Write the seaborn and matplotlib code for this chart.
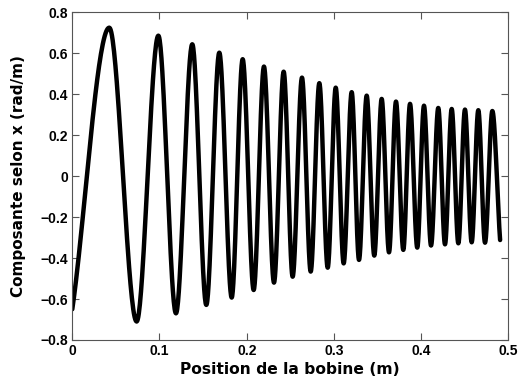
import numpy as np
import pandas as pd
import matplotlib
matplotlib.use("Agg")
import matplotlib.pyplot as plt
import seaborn as sns

# Start point, alternating peaks/troughs, and end point of the measured signal
position_m = [0.0000, 0.0424, 0.0738, 0.0987, 0.1189, 0.1376, 0.1537, 0.1686,
              0.1828, 0.1954, 0.2080, 0.2198, 0.2313, 0.2424, 0.2527, 0.2634,
              0.2734, 0.2833, 0.2929, 0.3021, 0.3112, 0.3204, 0.3288, 0.3376,
              0.3463, 0.3548, 0.3632, 0.3712, 0.3796, 0.3873, 0.3956, 0.4033,
              0.4114, 0.4197, 0.4274, 0.4351, 0.4427, 0.4503, 0.4580, 0.4656,
              0.4733, 0.4817, 0.4906]
component_x = [-0.650, 0.725, -0.710, 0.686, -0.670, 0.644, -0.629, 0.603,
               -0.593, 0.571, -0.556, 0.535, -0.520, 0.510, -0.491, 0.481,
               -0.466, 0.454, -0.447, 0.432, -0.426, 0.410, -0.409, 0.393,
               -0.388, 0.377, -0.372, 0.364, -0.360, 0.353, -0.349, 0.344,
               -0.339, 0.333, -0.333, 0.328, -0.328, 0.325, -0.323, 0.322,
               -0.325, 0.318, -0.312]

x_ticks = [0, 0.1, 0.2, 0.3, 0.4, 0.5]
y_ticks = [-0.8, -0.6, -0.4, -0.2, 0, 0.2, 0.4, 0.6, 0.8]


def smooth_curve(xk, yk, per_seg=40, start_slope=0.9, end_slope=0.8):
    """Cubic Hermite curve through the knots, flat at every interior extremum."""
    xk = np.asarray(xk, float)
    yk = np.asarray(yk, float)
    h = np.diff(xk)
    delta = np.diff(yk) / h
    d = np.zeros_like(yk)
    d[0] = start_slope * delta[0]
    d[-1] = end_slope * delta[-1]
    xs, ys = [], []
    for k in range(len(xk) - 1):
        t = np.linspace(0, 1, per_seg, endpoint=(k == len(xk) - 2))
        h00 = 2 * t**3 - 3 * t**2 + 1
        h10 = t**3 - 2 * t**2 + t
        h01 = -2 * t**3 + 3 * t**2
        h11 = t**3 - t**2
        xs.append(xk[k] + t * h[k])
        ys.append(h00 * yk[k] + h10 * h[k] * d[k] + h01 * yk[k + 1] + h11 * h[k] * d[k + 1])
    return np.concatenate(xs), np.concatenate(ys)


cx, cy = smooth_curve(position_m, component_x)
df = pd.DataFrame({"pos": cx, "comp": cy})

sns.set_style("ticks")
plt.rcParams["font.family"] = ["Liberation Sans", "DejaVu Sans"]
plt.rcParams["axes.unicode_minus"] = True
plt.rcParams["text.color"] = "black"
plt.rcParams["axes.labelcolor"] = "black"

fig = plt.figure(figsize=(5.2, 3.85), dpi=100)
ax = fig.add_axes([0.139, 0.117, 0.8385, 0.851])

sns.lineplot(data=df, x="pos", y="comp", ax=ax, color="black", linewidth=3.2,
             sort=False, estimator=None)

ax.set_xlim(0, 0.5)
ax.set_ylim(-0.8, 0.8)
ax.set_xticks(x_ticks)
ax.set_yticks(y_ticks)
ax.set_xticklabels([f"{v:g}" for v in x_ticks])
ax.set_yticklabels([f"{v:g}".replace("-", "\u2212") for v in y_ticks])
ax.tick_params(direction="in", length=5, width=0.8, color="#555555",
               labelcolor="black", top=True, right=True, labelsize=10, pad=3)
for lab in ax.get_xticklabels() + ax.get_yticklabels():
    lab.set_fontweight("bold")
for sp in ax.spines.values():
    sp.set_visible(True)
    sp.set_color("#555555")
    sp.set_linewidth(0.8)

ax.set_xlabel("Position de la bobine (m)", fontsize=11.2, fontweight="bold",
              family="DejaVu Sans", color="black", labelpad=3)
ax.set_ylabel("Composante selon x (rad/m)", fontsize=11, fontweight="bold",
              family="DejaVu Sans", color="black")
ax.yaxis.set_label_coords(-0.105, 0.5)

fig.savefig("out.png", dpi=100)
